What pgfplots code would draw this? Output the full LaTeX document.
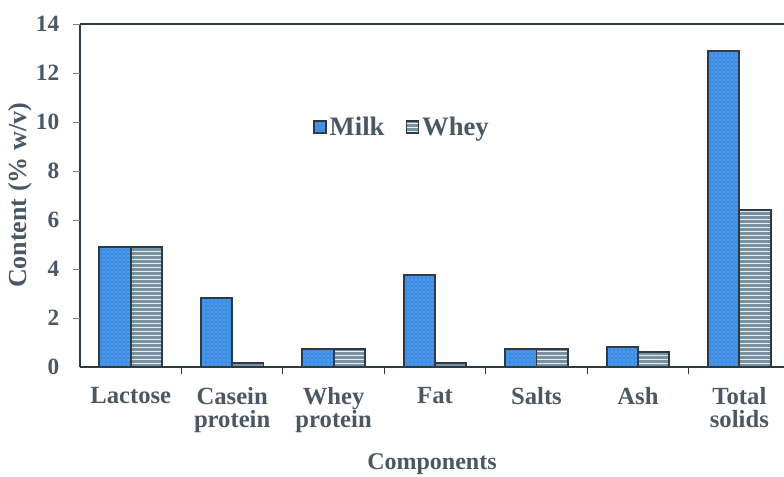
\documentclass[border=0pt]{standalone}
\usepackage{fontspec}
\setmainfont{Liberation Serif}
\usepackage{pgfplots}
\pgfplotsset{compat=1.18}
\usetikzlibrary{patterns}
\definecolor{txt}{HTML}{4A5866}
\definecolor{milkc}{HTML}{3E8FE4}
\definecolor{wheyc}{HTML}{7891A0}
\definecolor{edge}{HTML}{2E3A44}
\begin{document}
\begin{tikzpicture}[x=1pt,y=1pt]
\begin{axis}[
  at={(0,0)}, anchor=south west,
  scale only axis, width=528pt, height=257.25pt,
  ybar=0pt, bar width=23.5pt,
  xmin=-0.5, xmax=6.44, ymin=0, ymax=14,
  ytick={0,2,...,14},
  xtick={0,...,6},
  xtick pos=bottom, ytick pos=left,
  xticklabels={Lactose,{Casein\\protein},{Whey\\protein},Fat,Salts,Ash,{Total\\solids}},
  xticklabel style={align=center, font=\bfseries\fontsize{18.5}{17}\selectfont, text=txt, yshift=-12pt},
  yticklabel style={font=\bfseries\fontsize{17.5}{18}\selectfont, text=txt, xshift=-12pt},
  /pgf/number format/assume math mode=true,
  major tick length=0pt,
  extra x ticks={0.5,1.5,2.5,3.5,4.5,5.5},
  extra x tick labels={},
  extra x tick style={major tick length=5pt, tick align=outside, tick style={draw=edge, line width=0.8pt}},
  extra y ticks={2,4,...,14},
  extra y tick labels={},
  extra y tick style={major tick length=5pt, tick align=outside, tick style={draw=gray, line width=0.6pt}},
  axis x line*=box, axis y line*=left,
  axis line style={draw=edge, line width=1pt},
  separate axis lines,
  xlabel={Components}, ylabel={Content (\% w/v)},
  xlabel style={font=\bfseries\fontsize{18}{18}\selectfont, text=txt,
    at={(axis description cs:0.5,0)}, anchor=center, yshift=-73pt},
  ylabel style={font=\bfseries\fontsize{19.5}{18}\selectfont, text=txt, yshift=-9pt},
  legend style={draw=none, fill=none, at={(0.458,0.70)}, anchor=center,
    legend columns=2, font=\bfseries\fontsize{20}{20}\selectfont, text=txt,
    /tikz/every even column/.append style={column sep=14pt}},
  legend image code/.code={\draw[#1, line width=1.2pt] (0pt,-4.5pt) rectangle (9pt,4.5pt);},
]
\addplot[fill=milkc, draw=edge, line width=1.4pt,
  postaction={pattern=dots, pattern color=white!45!milkc}]
  coordinates {(0,4.9) (1,2.8) (2,0.75) (3,3.75) (4,0.75) (5,0.8) (6,12.9)};
\addplot[fill=wheyc, draw=edge, line width=1.4pt,
  postaction={pattern=horizontal lines, pattern color=white!85!wheyc}]
  coordinates {(0,4.9) (1,0.15) (2,0.75) (3,0.15) (4,0.75) (5,0.6) (6,6.4)};
\legend{Milk,Whey}
\end{axis}
\pgfresetboundingbox
\useasboundingbox (-60pt,-81.75pt) rectangle (528pt,275.25pt);
\end{tikzpicture}
\end{document}
